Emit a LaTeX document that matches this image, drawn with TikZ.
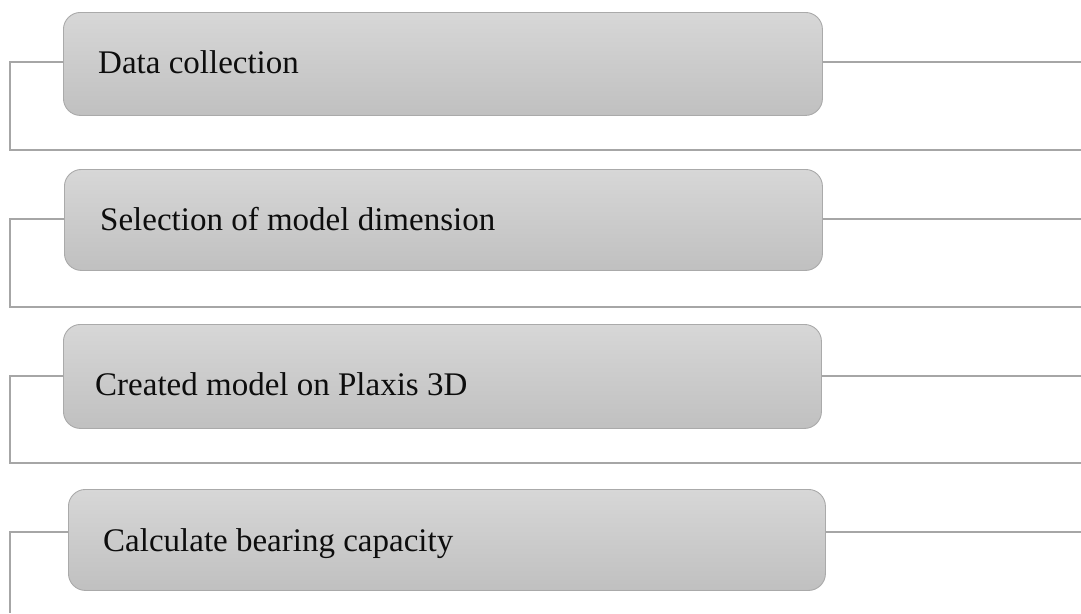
\documentclass[tikz,border=0pt]{standalone}
\usepackage{fontspec}
\setmainfont{Liberation Serif}
\definecolor{linegray}{RGB}{166,166,166}
\definecolor{boxborder}{RGB}{170,170,170}
\definecolor{boxtop}{RGB}{215,215,215}
\definecolor{boxbot}{RGB}{192,192,192}
\begin{document}
\begin{tikzpicture}[x=1pt,y=-1pt,
  stepbox/.style={draw=boxborder, line width=0.9pt, rounded corners=17pt,
    top color=boxtop, bottom color=boxbot, inner sep=0pt, anchor=north west},
  steptext/.style={anchor=base west, inner sep=0pt, font=\fontsize{33}{39}\selectfont, text=black!95},
  conn/.style={draw=linegray, line width=1.6pt}]
\useasboundingbox (0,0) rectangle (1081,613);
% boxes
\node[stepbox, minimum width=759pt, minimum height=103pt] (b1) at (63,12) {};
\node[stepbox, minimum width=758pt, minimum height=101pt] (b2) at (64,169) {};
\node[stepbox, minimum width=758pt, minimum height=104pt] (b3) at (63,324) {};
\node[stepbox, minimum width=757pt, minimum height=101pt] (b4) at (68,489) {};
% texts
\node[steptext] (t1) at (98,73) {Data collection};
\node[steptext] (t2) at (100,230) {Selection of model dimension};
\node[steptext] (t3) at (95,395) {Created model on Plaxis 3D};
\node[steptext] (t4) at (103,551) {Calculate bearing capacity};
% coordinates
\coordinate (l1) at (10,62);  \coordinate (r1) at (1081,62);
\coordinate (d1) at (10,150); \coordinate (e1) at (1081,150);
\coordinate (l2) at (10,219); \coordinate (r2) at (1081,219);
\coordinate (d2) at (10,307); \coordinate (e2) at (1081,307);
\coordinate (l3) at (10,376); \coordinate (r3) at (1081,376);
\coordinate (d3) at (10,463); \coordinate (e3) at (1081,463);
\coordinate (l4) at (10,532); \coordinate (r4) at (1081,532);
\coordinate (d4) at (10,613);
% connectors
\draw[conn] (b1.west |- l1) -- (l1) -- (d1) -- (e1);
\draw[conn] (b1.east |- r1) -- (r1);
\draw[conn] (b2.west |- l2) -- (l2) -- (d2) -- (e2);
\draw[conn] (b2.east |- r2) -- (r2);
\draw[conn] (b3.west |- l3) -- (l3) -- (d3) -- (e3);
\draw[conn] (b3.east |- r3) -- (r3);
\draw[conn] (b4.west |- l4) -- (l4) -- (d4);
\draw[conn] (b4.east |- r4) -- (r4);
\end{tikzpicture}
\end{document}
